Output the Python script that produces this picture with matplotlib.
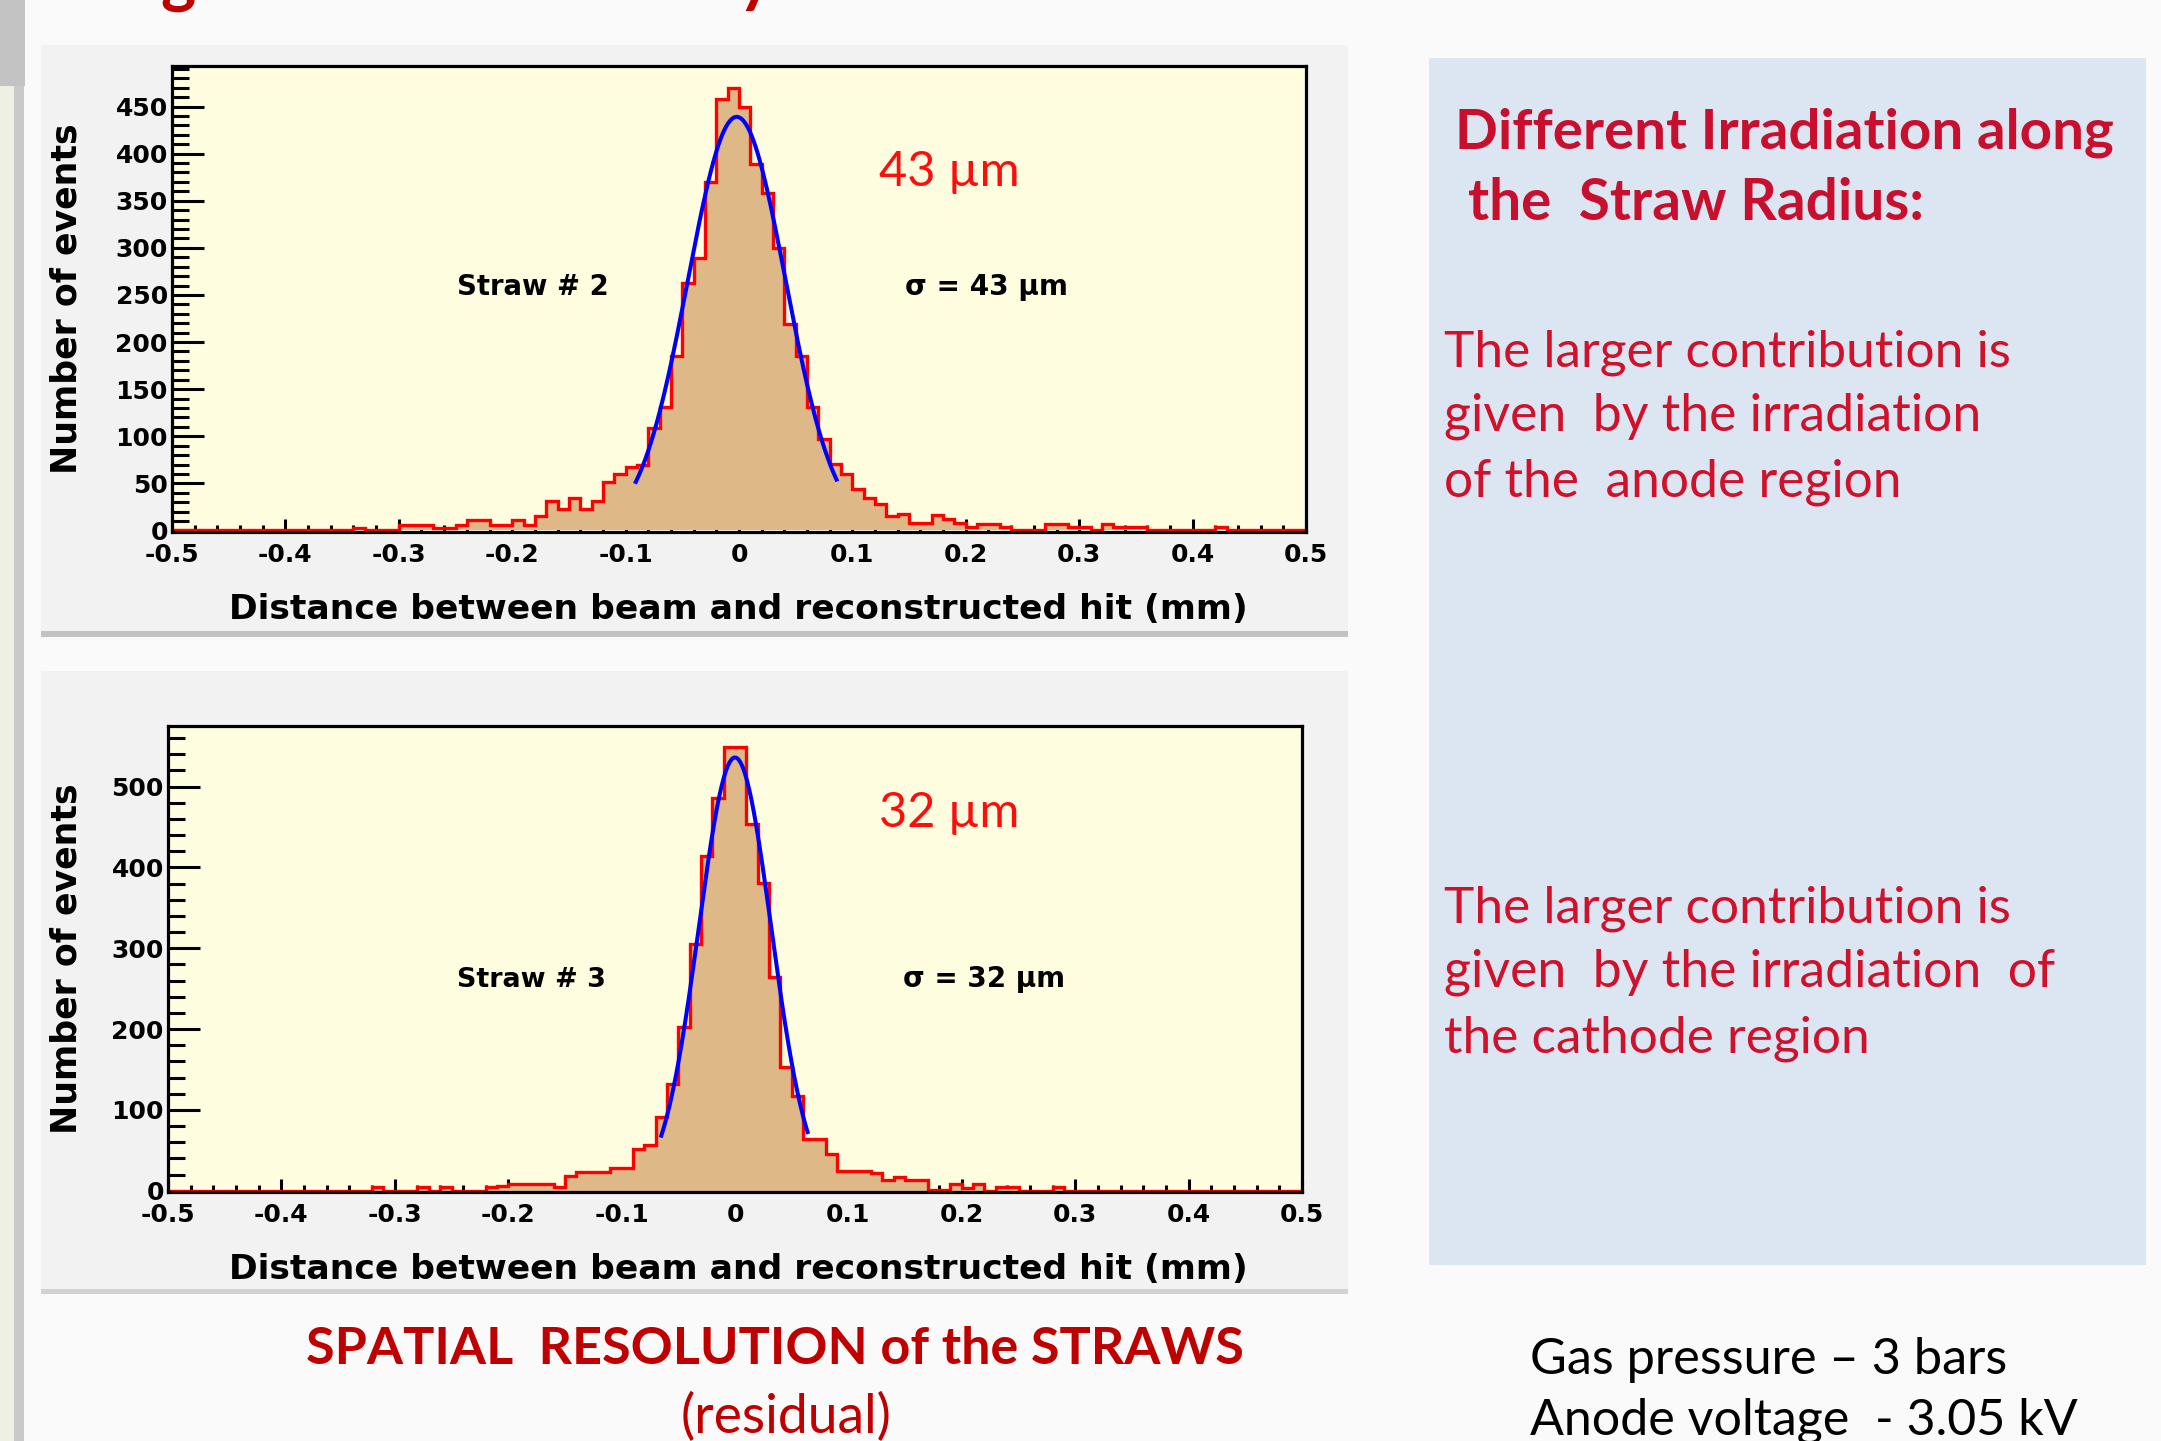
import numpy as np
import matplotlib
matplotlib.use("Agg")
import matplotlib.pyplot as plt
from matplotlib.patches import Rectangle
from matplotlib.ticker import FixedLocator, FixedFormatter, MultipleLocator

# ---------------- data ----------------
bin_edges_mm = np.linspace(-0.5, 0.5, 101)          # 100 bins of 0.01 mm

straw2_counts = [
    0, 0, 0, 0, 0, 0, 0, 0, 0, 0, 0, 0, 0, 0, 0, 0, 3, 0, 0, 0,
    6, 6, 6, 3, 3, 6, 11, 11, 6, 6, 11, 6, 15, 31, 23, 34, 23, 31, 51, 60,
    67, 70, 109, 131, 185, 263, 289, 370, 458, 470, 450, 389, 358, 300, 219, 185, 131, 97, 71, 60,
    44, 35, 28, 15, 18, 8, 8, 16, 12, 8, 4, 7, 7, 4, 0, 0, 0, 7, 7, 4,
    4, 0, 7, 4, 4, 4, 0, 0, 0, 0, 0, 0, 4, 0, 0, 0, 0, 0, 0, 0,
]
straw3_counts = [
    0, 0, 0, 0, 0, 0, 0, 0, 0, 0, 0, 0, 0, 0, 0, 0, 0, 0, 4, 0,
    0, 0, 4, 0, 4, 0, 0, 0, 4, 6, 8, 8, 8, 8, 4, 18, 23, 23, 23, 28,
    28, 51, 56, 91, 132, 203, 305, 414, 486, 549, 549, 454, 381, 265, 153, 117, 64, 64, 45, 24,
    24, 24, 22, 13, 17, 13, 13, 1, 1, 8, 3, 8, 0, 4, 4, 0, 0, 0, 4, 0,
    0, 0, 0, 0, 0, 0, 0, 0, 0, 0, 0, 0, 0, 0, 0, 0, 0, 0, 0, 0,
]

# Gaussian fit parameters (amplitude, mean [mm], sigma [mm], fit range [mm])
straw2_fit = {"amplitude": 439, "mean": -0.002, "sigma": 0.043, "x_from": -0.091, "x_to": 0.086}
straw3_fit = {"amplitude": 536, "mean": 0.0, "sigma": 0.032, "x_from": -0.065, "x_to": 0.064}

xtick_values = [-0.5, -0.4, -0.3, -0.2, -0.1, 0.0, 0.1, 0.2, 0.3, 0.4, 0.5]
xtick_labels = ["-0.5", "-0.4", "-0.3", "-0.2", "-0.1", "0", "0.1", "0.2", "0.3", "0.4", "0.5"]
straw2_yticks = [0, 50, 100, 150, 200, 250, 300, 350, 400, 450]
straw3_yticks = [0, 100, 200, 300, 400, 500]

x_title = "Distance between beam and reconstructed hit (mm)"
y_title = "Number of events"

# ---------------- figure ----------------
W, H, DPI = 2161, 1441, 100
fig = plt.figure(figsize=(W / DPI, H / DPI), dpi=DPI)
fig.patch.set_facecolor("#fafafa")
renderer = fig.canvas.get_renderer()


def frect(x0, y0, x1, y1):
    return [x0 / W, 1 - y1 / H, (x1 - x0) / W, (y1 - y0) / H]


def box(x0, y0, x1, y1, color, z=0):
    r = frect(x0, y0, x1, y1)
    fig.add_artist(Rectangle((r[0], r[1]), r[2], r[3], transform=fig.transFigure,
                             facecolor=color, edgecolor="none", zorder=z))


# slide background pieces
box(0, 0, 25, 86, "#c3c3c3")
box(0, 86, 14, H, "#eef0e2")
box(14, 86, 24, H, "#c9c9c9")
box(41, 45, 1348, 637, "#f2f2f2")
box(41, 631, 1348, 637, "#c2c2c2")
box(41, 671, 1348, 1294, "#f2f2f2")
box(41, 1289, 1348, 1294, "#d2d2d2")
box(1429, 58, 2146, 1265, "#dce6f2")


def fit_text(x0, x1, ybase, s, size, **kw):
    t = fig.text(x0 / W, 1 - ybase / H, s, ha="left", va="baseline", fontsize=size, **kw)
    w = t.get_window_extent(renderer=renderer).width
    t.set_fontsize(size * (x1 - x0) / w)
    return t


def draw_hist(rect_px, counts, fit, yticks, ymax, minor_step):
    ax = fig.add_axes(frect(*rect_px))
    ax.set_facecolor("#fffde0")
    ax.stairs(counts, bin_edges_mm, fill=True, color="#deb887", zorder=2)
    ax.stairs(counts, bin_edges_mm, color="#ff0000", lw=2.4, zorder=3)
    xf = np.linspace(fit["x_from"], fit["x_to"], 200)
    yf = fit["amplitude"] * np.exp(-0.5 * ((xf - fit["mean"]) / fit["sigma"]) ** 2)
    ax.plot(xf, yf, color="#0000ff", lw=2.9, zorder=4)
    ax.set_xlim(-0.5, 0.5)
    ax.set_ylim(-1.6, ymax)
    ax.xaxis.set_major_locator(FixedLocator(xtick_values))
    ax.xaxis.set_major_formatter(FixedFormatter(xtick_labels))
    ax.xaxis.set_minor_locator(MultipleLocator(0.02))
    ax.yaxis.set_major_locator(FixedLocator(yticks))
    ax.yaxis.set_minor_locator(MultipleLocator(minor_step))
    ax.tick_params(which="both", direction="in", top=False, right=False,
                   color="black", width=2.2, labelsize=18)
    ax.tick_params(axis="x", which="major", length=9.5, pad=8)
    ax.tick_params(axis="x", which="minor", length=4.8)
    ax.tick_params(axis="y", which="major", length=23, pad=3)
    ax.tick_params(axis="y", which="minor", length=12)
    for lab in ax.get_xticklabels() + ax.get_yticklabels():
        lab.set_fontweight("bold")
    for sp in ax.spines.values():
        sp.set_linewidth(2.3)
        sp.set_zorder(5)
    return ax


ax1 = draw_hist((172, 66, 1306, 532), straw2_counts, straw2_fit, straw2_yticks, 493, 10)
ax2 = draw_hist((168, 726, 1302, 1192), straw3_counts, straw3_fit, straw3_yticks, 575, 20)

# axis titles
for ybase in (619, 1279):
    fit_text(229, 1247, ybase, x_title, 25, fontweight="bold", color="black")
for yc in (299, 959):
    fig.text(67 / W, 1 - yc / H, y_title, rotation=90, ha="center", va="center",
             fontsize=25, fontweight="bold", color="black")

# in-plot annotations
fit_text(879, 1020, 186, "43 µm", 34, family="Lato", color="#ff0d0d")
fit_text(457, 609, 295, "Straw # 2", 20, fontweight="bold", color="black")
fit_text(905, 1068, 295, "σ = 43 µm", 20, fontweight="bold", color="black")
fit_text(879, 1020, 827, "32 µm", 34, family="Lato", color="#ff0d0d")
fit_text(457, 606, 987, "Straw # 3", 20, fontweight="bold", color="black")
fit_text(903, 1065, 987, "σ = 32 µm", 20, fontweight="bold", color="black")

# right panel text
head_c = "#c8102e"
body_c = "#d0112b"
fit_text(1455, 2113, 149, "Different Irradiation along", 40, family="Lato", fontweight="bold", color=head_c)
fit_text(1468, 1924, 220, "the  Straw Radius:", 40, family="Lato", fontweight="bold", color=head_c)
fit_text(1444, 2012, 367, "The larger contribution is", 32, family="Lato", color=body_c)
fit_text(1444, 1982, 431, "given  by the irradiation", 32, family="Lato", color=body_c)
fit_text(1444, 1902, 496, "of the  anode region", 32, family="Lato", color=body_c)
fit_text(1444, 2012, 922, "The larger contribution is", 32, family="Lato", color=body_c)
fit_text(1444, 2056, 987, "given  by the irradiation  of", 32, family="Lato", color=body_c)
fit_text(1444, 1870, 1052, "the cathode region", 32, family="Lato", color=body_c)

# bottom captions (cut by the lower edge as in the slide)
fit_text(306, 1244, 1364, "SPATIAL  RESOLUTION of the STRAWS", 36, family="Lato", fontweight="bold", color="#c00000")
fit_text(681, 893, 1433, "(residual)", 34, family="Lato", color="#c00000")
fit_text(1530, 2009, 1374, "Gas pressure – 3 bars", 34, family="Lato", color="black")
fit_text(1530, 2078, 1435, "Anode voltage  - 3.05 kV", 34, family="Lato", color="black")

# cut-off descenders of the slide title above the frame
fig.text(160 / W, 1 + 1 / H, "g", family="Lato", fontweight="bold", fontsize=48,
         color="#c00000", ha="left", va="baseline")
fig.text(738 / W, 1 + 1 / H, "y", family="Lato", fontweight="bold", fontsize=48,
         color="#c00000", ha="left", va="baseline")

fig.savefig("out.png", dpi=DPI, facecolor=fig.get_facecolor())
